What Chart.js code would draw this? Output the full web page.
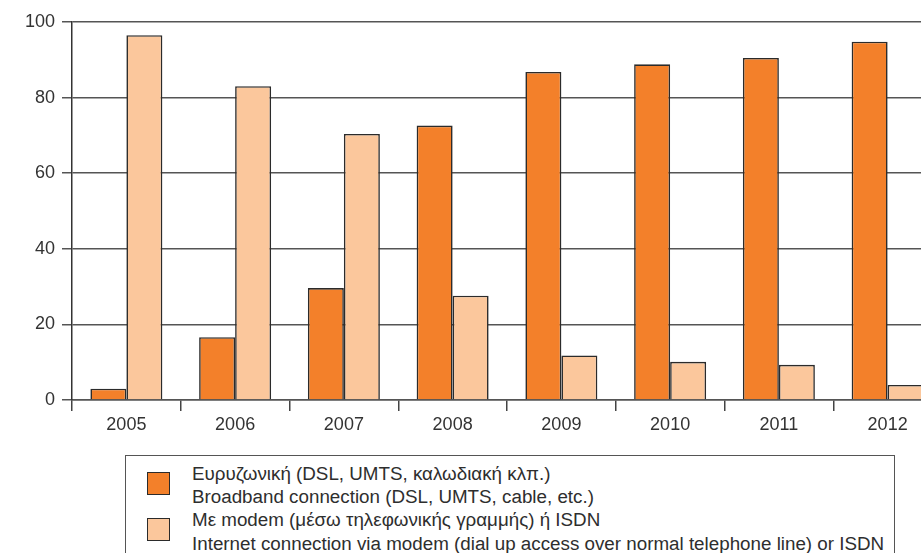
<!DOCTYPE html>
<html>
<head>
<meta charset="utf-8">
<script src="https://cdn.jsdelivr.net/npm/chart.js@4/dist/chart.umd.min.js"></script>
<style>
  html, body { margin: 0; padding: 0; background: #fff; overflow: hidden; width: 921px; height: 553px; }
  #wrap { position: relative; width: 921px; height: 553px; overflow: hidden; }
  #chart { position: absolute; left: 0; top: 0; }
  #legend {
    position: absolute; left: 125px; top: 455px; width: 770px; height: 120px;
    border: 1.5px solid #555; box-sizing: border-box;
    font-family: "Liberation Sans", Arial, sans-serif; font-size: 18.8px; color: #2e2e2e;
  }
  .sw { position: absolute; left: 21px; width: 23px; height: 23px; box-sizing: border-box; border: 1.5px solid #2b2b2b; }
  .txt { position: absolute; left: 66px; line-height: 23.5px; white-space: nowrap; }
</style>
</head>
<body>
<div id="wrap">
  <canvas id="chart" width="942" height="440"></canvas>
  <div id="legend"></div>
</div>
<script>
// δεδομένα
const years = ['2005', '2006', '2007', '2008', '2009', '2010', '2011', '2012']
const broadband = [3.0, 16.6, 29.6, 72.6, 86.8, 88.8, 90.5, 94.8] // Ευρυζωνική
const modem = [96.5, 83.0, 70.4, 27.6, 11.8, 10.1, 9.3, 4.0] // Με modem / ISDN
const yTicks = [0, 20, 40, 60, 80, 100]

const seriesNames = [
    ['Ευρυζωνική (DSL, UMTS, καλωδιακή κλπ.)', 'Broadband connection (DSL, UMTS, cable, etc.)'],
    ['Με modem (μέσω τηλεφωνικής γραμμής) ή ISDN', 'Internet connection via modem (dial up access over normal telephone line) or ISDN']
]
const colors = ['#F3802A', '#FBC79C']
const edge = '#2b2b2b'

const tickFont = {family: '"Liberation Sans", Arial, sans-serif', size: 18}

new Chart(document.getElementById('chart'), {
    type: 'bar',
    data: {
        labels: years,
        datasets: [
            {label: seriesNames[0].join(' / '), data: broadband, backgroundColor: colors[0], borderColor: edge, borderWidth: 1.6},
            {label: seriesNames[1].join(' / '), data: modem, backgroundColor: colors[1], borderColor: edge, borderWidth: 1.6}
        ]
    },
    options: {
        responsive: false,
        animation: false,
        devicePixelRatio: 1,
        categoryPercentage: 0.662,
        barPercentage: 1,
        layout: {padding: {top: 22, left: 0, right: 0, bottom: 0}},
        plugins: {legend: {display: false}, tooltip: {enabled: false}},
        scales: {
            x: {
                grid: {offset: true, drawOnChartArea: false, drawTicks: true, tickLength: 11, color: '#444', lineWidth: 1.5},
                border: {display: true, color: '#555', width: 1.5},
                ticks: {font: tickFont, color: '#333', padding: 3, maxRotation: 0},
                afterFit(scale) { scale.height = 40 }
            },
            y: {
                min: 0,
                max: 100,
                afterBuildTicks(scale) { scale.ticks = yTicks.map(v => ({value: v})) },
                grid: {color: '#555', lineWidth: 1.5, tickLength: 10, drawTicks: true},
                border: {display: true, color: '#333', width: 1.5},
                ticks: {font: tickFont, color: '#333', padding: 7},
                afterFit(scale) { scale.width = 72 }
            }
        }
    }
})

// υπόμνημα
const legend = document.getElementById('legend')
const swTops = [16, 62]
seriesNames.forEach((lines, i) => {
    const sw = document.createElement('div')
    sw.className = 'sw'
    sw.style.top = swTops[i] + 'px'
    sw.style.background = colors[i]
    legend.appendChild(sw)
    lines.forEach((t, j) => {
        const d = document.createElement('div')
        d.className = 'txt'
        d.style.top = (6 + (i * 2 + j) * 23.2) + 'px'
        d.textContent = t
        legend.appendChild(d)
    })
})
</script>
</body>
</html>
